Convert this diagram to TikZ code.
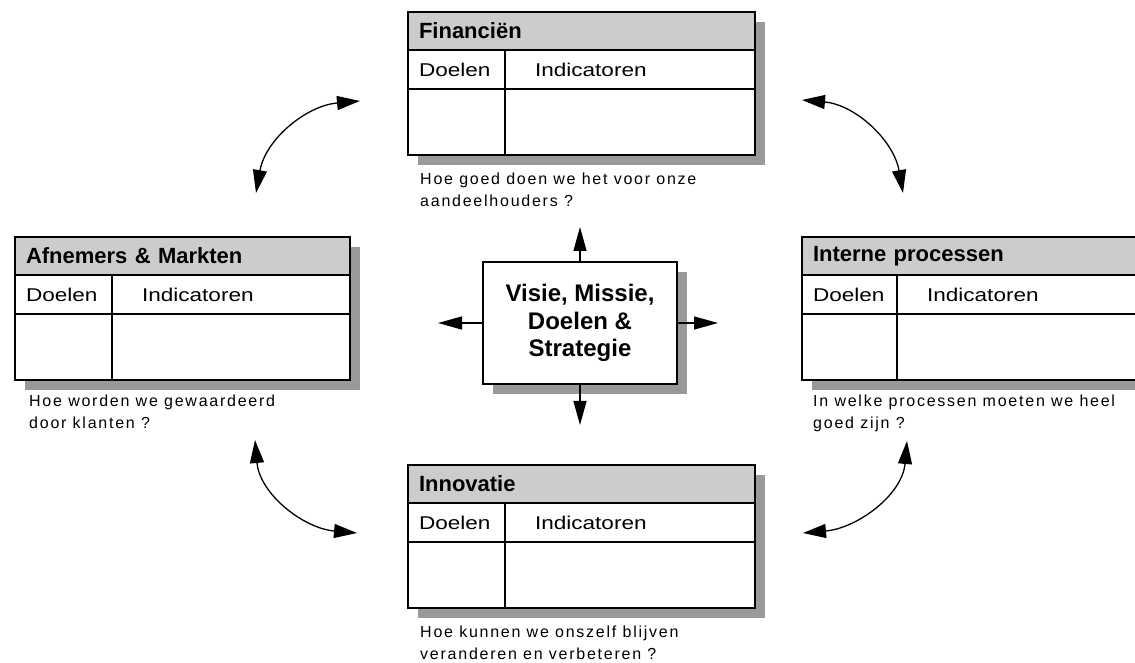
\documentclass[tikz,border=0pt]{standalone}
\usepackage{fontspec}
\setmainfont{Liberation Sans}
\newfontfamily\cellfont{Liberation Sans}[FakeStretch=1.22]
\newfontfamily\questfont{Liberation Sans}[LetterSpace=11]
\usepackage{tikz}
\usetikzlibrary{positioning, shadows, arrows.meta}
\definecolor{headgray}{HTML}{CCCCCC}
\definecolor{shadowgray}{HTML}{999999}
\tikzstyle{card} = [rectangle, draw=black, line width=1.5pt, fill=white, anchor=north west, inner sep=0pt, outer sep=0pt, minimum height=143pt, drop shadow={opacity=1, fill=shadowgray, shadow xshift=10pt, shadow yshift=-10pt}]
\tikzstyle{head} = [rectangle, draw=black, line width=1.5pt, fill=headgray, anchor=north west, outer sep=0pt, minimum height=38pt, inner xsep=11pt, inner ysep=0pt, align=left, font=\fontsize{22}{26}\selectfont\bfseries]
\tikzstyle{doel} = [rectangle, draw=black, line width=1.5pt, anchor=north west, outer sep=0pt, minimum height=39pt, inner xsep=11pt, inner ysep=0pt, text width=75pt, align=left, font=\cellfont\fontsize{18.5}{22}\selectfont]
\tikzstyle{indic} = [doel, inner xsep=30pt, text width=190pt]
\tikzstyle{body} = [rectangle, draw=black, line width=1.5pt, anchor=north west, outer sep=0pt, minimum height=66pt, inner sep=0pt]
\tikzstyle{quest} = [anchor=north west, inner sep=0pt, align=left, font=\questfont\fontsize{16}{21.5}\selectfont]
\tikzstyle{visie} = [rectangle, draw=black, line width=1.5pt, fill=white, outer sep=0pt, minimum width=194pt, minimum height=122pt, align=center, font=\fontsize{24}{27.5}\selectfont\bfseries, drop shadow={opacity=1, fill=shadowgray, shadow xshift=10pt, shadow yshift=-10pt}]
\tikzstyle{arrow} = [line width=1.3pt, -{Triangle[length=24pt,width=13pt]}]
\tikzstyle{dblarrow} = [line width=1.3pt, {Triangle[length=23pt,width=14pt]}-{Triangle[length=23pt,width=14pt]}]

\begin{document}
\begin{tikzpicture}[x=1pt, y=1pt]
		\useasboundingbox (0,0) rectangle (1135,662);
		\node (fin) [card, minimum width=347pt] at (408,650) {};
		\node (finhead) [head, text width=325pt] at (fin.north west) {Financiën};
		\node (findoel) [doel] at (finhead.south west) {Doelen};
		\node (finind) [indic] at (findoel.north east) {Indicatoren};
		\node (finbl) [body, minimum width=97pt] at (findoel.south west) {};
		\node (finbr) [body, minimum width=250pt] at (finind.south west) {};
		\node (finq) [quest, below right=18pt and 12pt of finbl.south west] {Hoe goed doen we het voor onze\\aandeelhouders ?};

		\node (afn) [card, minimum width=335pt] at (15,425) {};
		\node (afnhead) [head, text width=313pt] at (afn.north west) {Afnemers \& Markten};
		\node (afndoel) [doel] at (afnhead.south west) {Doelen};
		\node (afnind) [indic, text width=178pt] at (afndoel.north east) {Indicatoren};
		\node (afnbl) [body, minimum width=97pt] at (afndoel.south west) {};
		\node (afnbr) [body, minimum width=238pt] at (afnind.south west) {};
		\node (afnq) [quest, below right=15pt and 14pt of afnbl.south west] {Hoe worden we gewaardeerd\\door klanten ?};

		\node (int) [card, minimum width=340pt] at (802,425) {};
		\node (inthead) [head, text width=318pt] at (int.north west) {Interne processen};
		\node (intdoel) [doel, text width=73pt] at (inthead.south west) {Doelen};
		\node (intind) [indic, text width=185pt] at (intdoel.north east) {Indicatoren};
		\node (intbl) [body, minimum width=95pt] at (intdoel.south west) {};
		\node (intbr) [body, minimum width=245pt] at (intind.south west) {};
		\node (intq) [quest, below right=15pt and 11pt of intbl.south west] {In welke processen moeten we heel\\goed zijn ?};

		\node (inn) [card, minimum width=347pt] at (408,197) {};
		\node (innhead) [head, text width=325pt] at (inn.north west) {Innovatie};
		\node (inndoel) [doel] at (innhead.south west) {Doelen};
		\node (innind) [indic] at (inndoel.north east) {Indicatoren};
		\node (innbl) [body, minimum width=97pt] at (inndoel.south west) {};
		\node (innbr) [body, minimum width=250pt] at (innind.south west) {};
		\node (innq) [quest, below right=18pt and 12pt of innbl.south west] {Hoe kunnen we onszelf blijven\\veranderen en verbeteren ?};

		\node (visie) [visie] at (580,339) {Visie, Missie,\\Doelen \&\\Strategie};
		\node (uptip) [coordinate, above=35pt of visie] {};
		\node (downtip) [coordinate, below=41pt of visie] {};
		\node (lefttip) [coordinate, left=45pt of visie] {};
		\node (righttip) [coordinate, right=41pt of visie] {};
		\draw [arrow] (visie) -- (uptip);
		\draw [arrow] (visie) -- (downtip);
		\draw [arrow] (visie) -- (lefttip);
		\draw [arrow] (visie) -- (righttip);

		\coordinate (tl1) at (256,469);
		\coordinate (tl2) at (360,561);
		\coordinate (tr1) at (802,562);
		\coordinate (tr2) at (903,469);
		\coordinate (bl1) at (255,222);
		\coordinate (bl2) at (357,129);
		\coordinate (br1) at (907,221);
		\coordinate (br2) at (803,129);
		\draw [dblarrow] (tl1) to[out=80, in=185] (tl2);
		\draw [dblarrow] (tr1) to[out=-5, in=100] (tr2);
		\draw [dblarrow] (bl1) to[out=-85, in=175] (bl2);
		\draw [dblarrow] (br1) to[out=-95, in=5] (br2);
\end{tikzpicture}
\end{document}
